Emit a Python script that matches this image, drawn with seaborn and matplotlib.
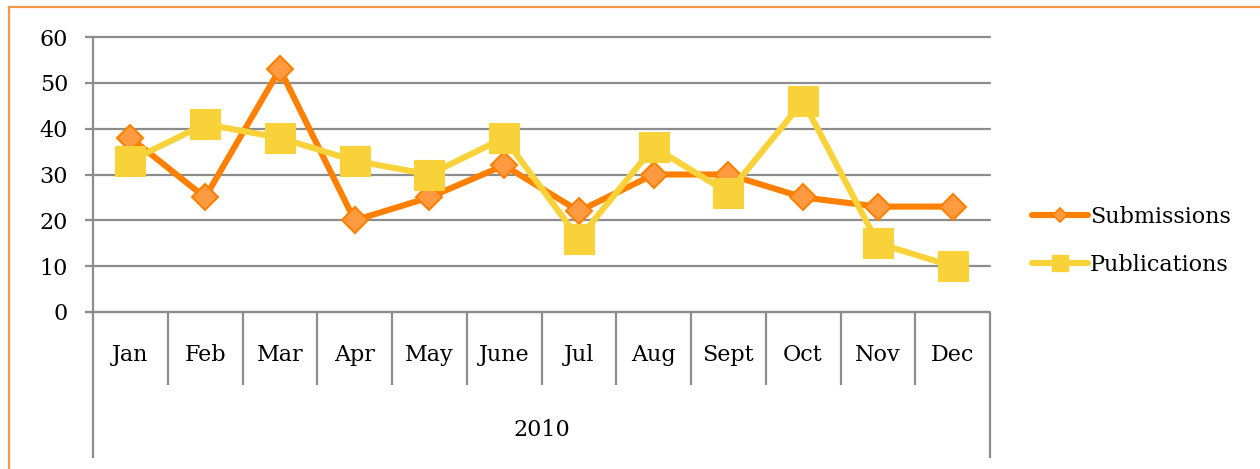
import matplotlib
matplotlib.use("Agg")
import matplotlib.pyplot as plt
import matplotlib.transforms as mtransforms
from matplotlib.patches import Rectangle
from matplotlib.lines import Line2D
import seaborn as sns
import pandas as pd

months = ["Jan", "Feb", "Mar", "Apr", "May", "June", "Jul", "Aug", "Sept", "Oct", "Nov", "Dec"]
submissions = [38, 25, 53, 20, 25, 32, 22, 30, 30, 25, 23, 23]
publications = [33, 41, 38, 33, 30, 38, 16, 36, 26, 46, 15, 10]
year_label = "2010"
y_ticks = [0, 10, 20, 30, 40, 50, 60]

sns.set_theme(style="white")
plt.rcParams["font.family"] = ["DejaVu Serif"]
plt.rcParams["text.color"] = "black"

df = pd.DataFrame({
    "month": months * 2,
    "value": submissions + publications,
    "series": ["Submissions"] * len(months) + ["Publications"] * len(months),
})

W, H = 1260, 469
fig = plt.figure(figsize=(W / 100, H / 100), dpi=100)
fig.patch.set_facecolor("white")
fig.patches.append(Rectangle((9 / W, -0.1), 1.2, 1 - 7 / H + 0.1, transform=fig.transFigure,
                             fill=False, edgecolor="#F79646", linewidth=1.6, zorder=0))

left, right, top, bottom = 93, 990, 37, 312
ax = fig.add_axes([left / W, 1 - bottom / H, (right - left) / W, (bottom - top) / H])

grid_c = "#8C8C8C"
sns.lineplot(data=df, x="month", y="value", hue="series", style="series",
             palette={"Submissions": "#FF8000", "Publications": "#F9D23A"},
             markers={"Submissions": "D", "Publications": "s"},
             dashes={"Submissions": "", "Publications": ""},
             linewidth=4.4, ax=ax, sort=False, legend=False, zorder=3)

for ln in ax.get_lines():
    if ln.get_marker() == "D":
        ln.set_markersize(13.5)
        ln.set_markerfacecolor("#FF9A40")
        ln.set_markeredgecolor("#FF8000")
        ln.set_markeredgewidth(1.5)
        ln.set_zorder(3)
    else:
        ln.set_markersize(21)
        ln.set_markerfacecolor("#F9D23A")
        ln.set_markeredgecolor("#F9D23A")
        ln.set_markeredgewidth(0.8)
        ln.set_zorder(4)

ax.set_xlim(-0.5, len(months) - 0.5)
ax.set_ylim(0, 60)
ax.set_yticks(y_ticks)
ax.set_yticklabels([str(t) for t in y_ticks], fontsize=16, color="black")
ax.set_xticks([])
ax.set_xlabel("")
ax.set_ylabel("")
ax.yaxis.grid(True, color=grid_c, linewidth=1.6)
for gl in ax.get_ygridlines():
    gl.set_clip_on(False)
ax.set_axisbelow(True)
ax.tick_params(axis="y", direction="out", length=6, width=1.6, color=grid_c, pad=12, left=True)
for s in ["top", "right", "bottom"]:
    ax.spines[s].set_visible(False)
ax.spines["left"].set_color(grid_c)
ax.spines["left"].set_linewidth(1.6)
ax.spines["left"].set_zorder(1)

trans = mtransforms.blended_transform_factory(ax.transData, ax.transAxes)
ax.plot([-0.5 - 8 / 74.75, len(months) - 0.5], [0, 0], transform=trans, color=grid_c,
        linewidth=1.6, clip_on=False, zorder=2, solid_capstyle="butt")
month_sep = (312 - 385) / 275
year_sep = (312 - 458) / 275
for k in range(len(months) + 1):
    x = k - 0.5
    y1 = year_sep if k in (0, len(months)) else month_sep
    ax.plot([x, x], [0, y1], transform=trans, color=grid_c, linewidth=1.6,
            clip_on=False, zorder=2, solid_capstyle="butt")
for i, m in enumerate(months):
    ax.text(i, (312 - 355) / 275, m, transform=trans, ha="center", va="center",
            fontsize=16, color="black")
ax.text((len(months) - 1) / 2, (312 - 430) / 275, year_label, transform=trans,
        ha="center", va="center", fontsize=16, color="black")

handles = [
    Line2D([], [], color="#FF8000", linewidth=4.4, marker="D", markersize=7.5,
           markerfacecolor="#FF9A40", markeredgecolor="#FF8000", markeredgewidth=1.2),
    Line2D([], [], color="#F9D23A", linewidth=4.4, marker="s", markersize=12,
           markerfacecolor="#F9D23A", markeredgecolor="#F9D23A"),
]
leg = fig.legend(handles, ["Submissions", "Publications"], loc="center left",
                 bbox_to_anchor=(1012 / W, 1 - 241 / H), frameon=False, fontsize=16,
                 handlelength=2.5, handletextpad=0.1, labelspacing=1.15)
for t in leg.get_texts():
    t.set_color("black")

fig.savefig("out.png", dpi=100, facecolor="white")
